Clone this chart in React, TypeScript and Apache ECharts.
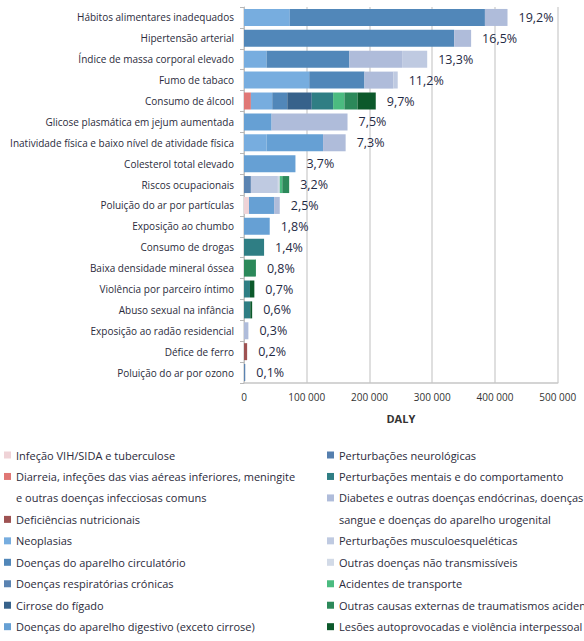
import React, { useEffect, useRef } from "react";
import * as echarts from "echarts";

const categories = [
  "Hábitos alimentares inadequados",
  "Hipertensão arterial",
  "Índice de massa corporal elevado",
  "Fumo de tabaco",
  "Consumo de álcool",
  "Glicose plasmática em jejum aumentada",
  "Inatividade física e baixo nível de atividade física",
  "Colesterol total elevado",
  "Riscos ocupacionais",
  "Poluição do ar por partículas",
  "Exposição ao chumbo",
  "Consumo de drogas",
  "Baixa densidade mineral óssea",
  "Violência por parceiro íntimo",
  "Abuso sexual na infância",
  "Exposição ao radão residencial",
  "Défice de ferro",
  "Poluição do ar por ozono",
];

const pctLabels = [
  "19,2%", "16,5%", "13,3%", "11,2%", "9,7%", "7,5%", "7,3%", "3,7%", "3,2%",
  "2,5%", "1,8%", "1,4%", "0,8%", "0,7%", "0,6%", "0,3%", "0,2%", "0,1%",
];

const xTicks = [0, 100000, 200000, 300000, 400000, 500000];

// DALY by cause group, one value per risk factor (same order as categories)
const vih =          [0, 0, 0, 0, 0, 0, 0, 0, 0, 8000, 0, 0, 0, 0, 0, 0, 0, 0];
const diarreia =     [0, 0, 0, 0, 11000, 0, 0, 0, 0, 0, 0, 0, 0, 0, 0, 0, 0, 0];
const deficiencias = [0, 0, 0, 0, 0, 0, 0, 0, 0, 0, 0, 0, 0, 0, 0, 0, 5000, 0];
const neoplasias =   [73000, 0, 36000, 104000, 34000, 0, 36000, 0, 0, 0, 0, 0, 0, 0, 0, 0, 0, 0];
const circulatorio = [311000, 335000, 132000, 88000, 24000, 0, 0, 0, 0, 0, 0, 0, 0, 0, 0, 0, 0, 0];
const respiratorias =[0, 0, 0, 0, 0, 0, 0, 0, 11000, 0, 0, 0, 0, 0, 0, 0, 0, 2000];
const cirrose =      [0, 0, 0, 0, 39000, 0, 0, 0, 0, 0, 0, 0, 0, 0, 0, 0, 0, 0];
const digestivo =    [0, 0, 0, 0, 0, 44000, 90000, 82000, 0, 40000, 41000, 0, 0, 0, 0, 0, 0, 0];
const neurologicas = [0, 0, 0, 0, 0, 0, 0, 0, 0, 0, 0, 0, 0, 0, 0, 0, 0, 0];
const mentais =      [0, 0, 0, 0, 34000, 0, 0, 0, 0, 0, 0, 32000, 0, 9500, 10000, 0, 0, 0];
const diabetes =     [36000, 27000, 84000, 46000, 0, 121000, 36000, 0, 0, 9000, 0, 0, 0, 0, 0, 7000, 0, 0];
const musculo =      [0, 0, 40000, 7000, 0, 0, 0, 0, 43000, 0, 0, 0, 0, 0, 0, 0, 0, 0];
const outrasDnt =    [0, 0, 0, 0, 0, 0, 0, 0, 3000, 0, 0, 0, 0, 0, 0, 0, 0, 0];
const transporte =   [0, 0, 0, 0, 18000, 0, 0, 0, 4000, 0, 0, 0, 0, 0, 0, 0, 0, 0];
const outrasCausas = [0, 0, 0, 0, 21000, 0, 0, 0, 11000, 0, 0, 0, 19000, 0, 0, 0, 0, 0];
const lesoes =       [0, 0, 0, 0, 29000, 0, 0, 0, 0, 0, 0, 0, 0, 7000, 3000, 0, 0, 0];

// cont: second line of a long legend name (shown as its own legend row, without a marker)
const causes = [
  { name: "Infeção VIH/SIDA e tuberculose", data: vih, color: "#efd3d7" },
  { name: "Diarreia, infeções das vias aéreas inferiores, meningite", cont: "e outras doenças infecciosas comuns", data: diarreia, color: "#e07775" },
  { name: "Deficiências nutricionais", data: deficiencias, color: "#9e5252" },
  { name: "Neoplasias", data: neoplasias, color: "#77addf" },
  { name: "Doenças do aparelho circulatório", data: circulatorio, color: "#5187b9" },
  { name: "Doenças respiratórias crónicas", data: respiratorias, color: "#5a83b1" },
  { name: "Cirrose do fígado", data: cirrose, color: "#37628b" },
  { name: "Doenças do aparelho digestivo (exceto cirrose)", data: digestivo, color: "#66a0d4" },
  { name: "Perturbações neurológicas", data: neurologicas, color: "#557fae" },
  { name: "Perturbações mentais e do comportamento", data: mentais, color: "#2f7e84" },
  { name: "Diabetes e outras doenças endócrinas, doenças do", cont: "sangue e doenças do aparelho urogenital", data: diabetes, color: "#afbcda" },
  { name: "Perturbações musculoesqueléticas", data: musculo, color: "#bfcae1" },
  { name: "Outras doenças não transmissíveis", data: outrasDnt, color: "#d2dae7" },
  { name: "Acidentes de transporte", data: transporte, color: "#4bbb80" },
  { name: "Outras causas externas de traumatismos acidentais", data: outrasCausas, color: "#2c895a" },
  { name: "Lesões autoprovocadas e violência interpessoal", data: lesoes, color: "#0c592b" },
];

const FONT = '"Open Sans", "Noto Sans", sans-serif';
const fmt = (v: number) => String(v).replace(/\B(?=(\d{3})+(?!\d))/g, " ");

export default function App() {
  const ref = useRef<HTMLDivElement>(null);
  useEffect(() => {
    document.body.style.margin = "0";
    if (!ref.current) return;
    const chart = echarts.init(ref.current, undefined, { renderer: "svg" });
    const totals = categories.map((_, i) => causes.reduce((s, c) => s + c.data[i], 0));
    const legendItems = (list: typeof causes) =>
      list.flatMap((c) => (c.cont ? [{ name: c.name }, { name: c.cont, icon: "none" }] : [{ name: c.name }]));
    const legendBase = {
      orient: "vertical",
      top: 445.5,
      itemWidth: 7,
      itemHeight: 7,
      itemGap: 2.46,
      padding: 0,
      icon: "rect",
      selectedMode: false,
      textStyle: { fontSize: 11, lineHeight: 19, color: "#2b2b3b", fontFamily: FONT },
    };
    const contSeries = causes
      .filter((c) => c.cont)
      .map((c) => ({ type: "bar", name: c.cont, stack: "total", data: [], itemStyle: { color: c.color } }));
    chart.setOption({
      animation: false,
      textStyle: { fontFamily: FONT },
      grid: { left: 244, right: 26.3, top: 7, bottom: 258 },
      legend: [
        { ...legendBase, left: 4, data: legendItems(causes.slice(0, 8)) },
        { ...legendBase, left: 327, data: legendItems(causes.slice(8)) },
      ],
      xAxis: {
        type: "value",
        min: xTicks[0],
        max: xTicks[xTicks.length - 1],
        interval: xTicks[1] - xTicks[0],
        name: "DALY",
        nameLocation: "middle",
        nameGap: 30,
        nameTextStyle: { fontWeight: "bold", fontSize: 11, color: "#333", fontFamily: FONT },
        axisLine: { show: true, lineStyle: { color: "#c6c6c6", width: 1.5 } },
        axisTick: { show: false },
        axisLabel: { fontSize: 10, color: "#333", margin: 9, formatter: (v: number) => fmt(v) },
        splitLine: { show: true, lineStyle: { color: "#d4d4d4", width: 1.5 } },
      },
      yAxis: {
        type: "category",
        inverse: true,
        data: categories,
        axisLine: { show: true, lineStyle: { color: "#c0c0c0", width: 1 } },
        axisTick: { show: true, length: 4, lineStyle: { color: "#b8b8b8" } },
        axisLabel: { fontSize: 10, color: "#2b2b3b", margin: 10 },
      },
      series: [
        ...causes.map((c) => ({
          type: "bar",
          name: c.name,
          stack: "total",
          data: c.data,
          barWidth: 17,
          itemStyle: { color: c.color },
        })),
        ...contSeries,
        {
          type: "bar",
          name: "total",
          data: totals,
          barWidth: 17,
          barGap: "-100%",
          silent: true,
          z: 1,
          itemStyle: { color: "transparent" },
          label: {
            show: true,
            position: "right",
            distance: 11,
            fontSize: 12.5,
            color: "#1f2a44",
            fontFamily: FONT,
            formatter: (p: any) => pctLabels[p.dataIndex],
          },
        },
      ],
    });
    return () => chart.dispose();
  }, []);
  return <div ref={ref} style={{ width: 584, height: 641 }} />;
}
